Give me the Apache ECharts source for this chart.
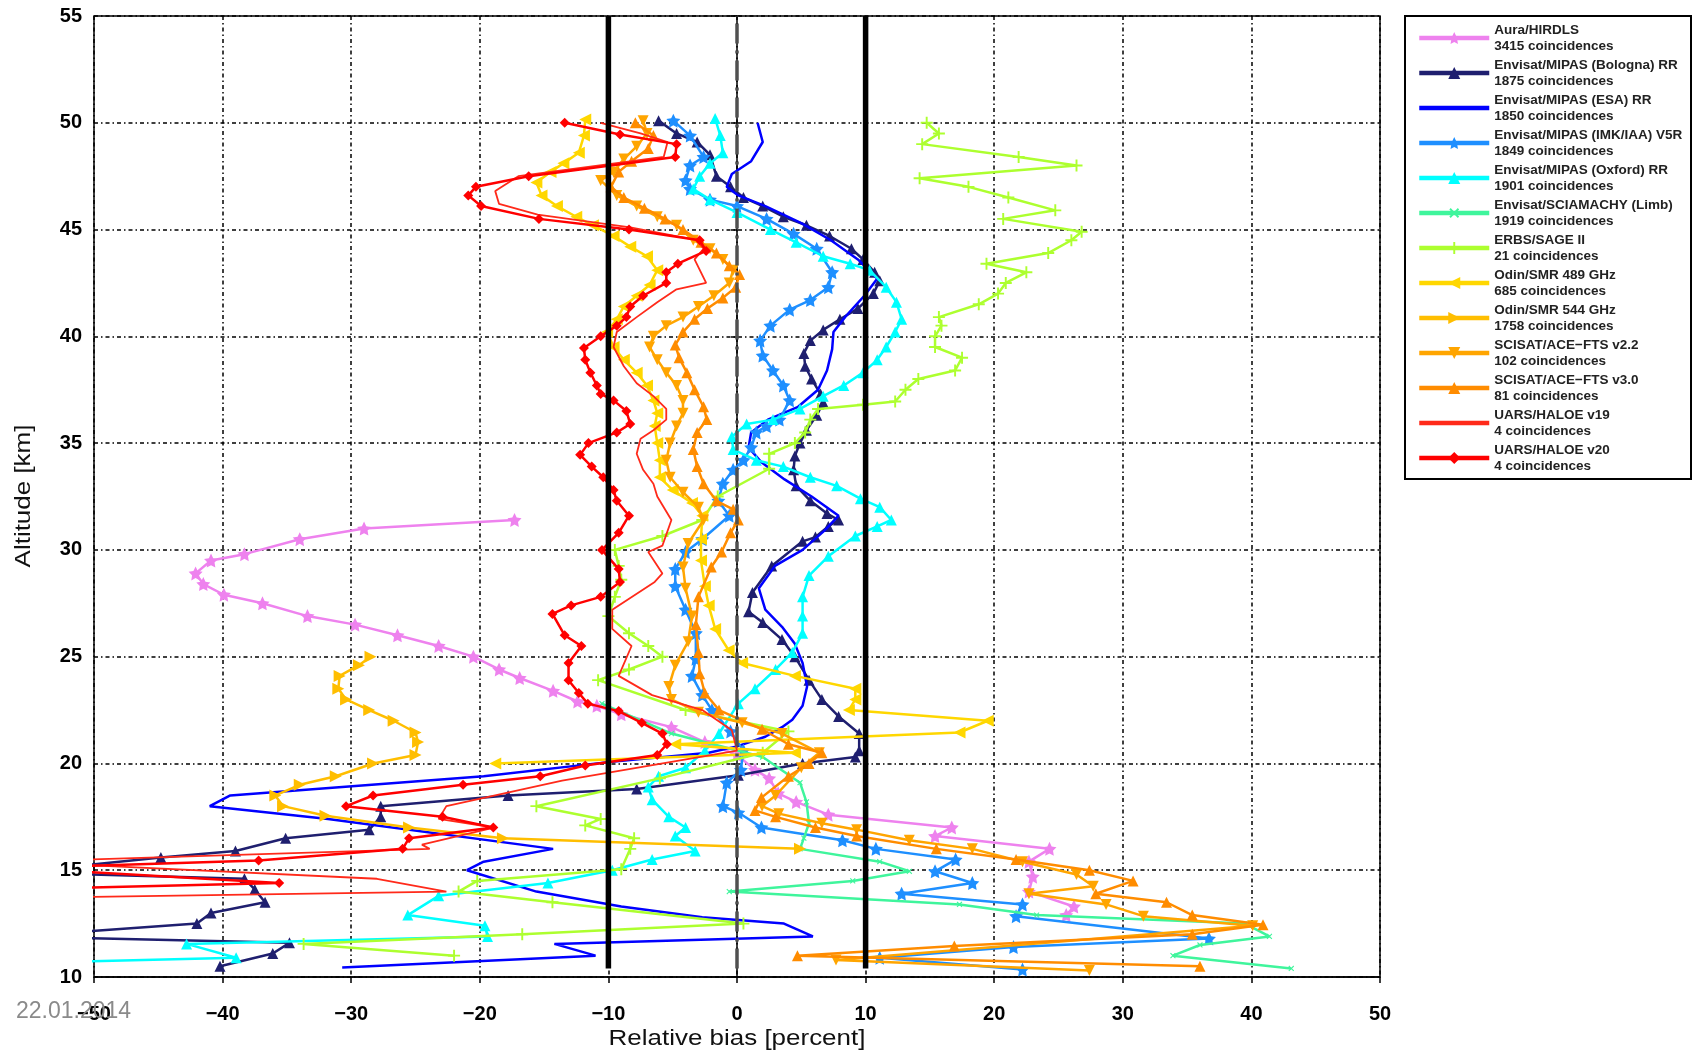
<!DOCTYPE html>
<html>
<head>
<meta charset="utf-8">
<title>Relative bias profiles</title>
<script src="https://cdn.jsdelivr.net/npm/echarts@6/dist/echarts.min.js"></script>
<style>
  html, body { margin: 0; padding: 0; background: #fff; }
  #chart { width: 1693px; height: 1052px; }
</style>
</head>
<body>
<div id="chart"></div>
<script>
// axis ticks
var xTicks = [-50, -40, -30, -20, -10, 0, 10, 20, 30, 40, 50];
var yTicks = [10, 15, 20, 25, 30, 35, 40, 45, 50, 55];

// legend text
var seriesNames = [
  'Aura/HIRDLS', 'Envisat/MIPAS (Bologna) RR', 'Envisat/MIPAS (ESA) RR',
  'Envisat/MIPAS (IMK/IAA) V5R', 'Envisat/MIPAS (Oxford) RR', 'Envisat/SCIAMACHY (Limb)',
  'ERBS/SAGE II', 'Odin/SMR 489 GHz', 'Odin/SMR 544 GHz',
  'SCISAT/ACE\u2212FTS v2.2', 'SCISAT/ACE\u2212FTS v3.0', 'UARS/HALOE v19', 'UARS/HALOE v20'
];
var coincidences = [3415, 1875, 1850, 1849, 1901, 1919, 21, 685, 1758, 102, 81, 4, 4];

// profiles: [relative bias %, altitude km]
var hirdls = [[-17.3,31.4],[-29,31.0],[-34.0,30.5],[-38.3,29.8],[-40.9,29.5],[-42.1,28.9],[-41.5,28.4],[-39.9,27.9],[-36.9,27.5],[-33.4,26.9],[-29.7,26.5],[-26.4,26.0],[-23.2,25.5],[-20.5,25.0],[-18.5,24.4],[-16.9,24.0],[-14.3,23.4],[-12.4,22.9],[-10.9,22.7],[-9,22.3],[-5.1,21.7],[-2.5,21.0],[0,20.4],[1.4,19.7],[2.5,19.3],[3.2,18.6],[4.6,18.2],[7.1,17.6],[16.7,17.0],[15.4,16.6],[24.3,16.0],[22.7,15.4],[23.0,14.7],[22.7,14.0],[26.2,13.3],[25.6,12.9]];

var mipasBologna = [[-6.1,50.1],[-4.7,49.5],[-3.1,49.1],[-2.1,48.5],[-1.6,47.5],[-0.5,47.0],[0.5,46.5],[2.0,46.1],[3.6,45.6],[5.4,45.2],[7.2,44.7],[8.9,44.1],[9.8,43.6],[10.7,43.0],[11.1,42.6],[10.6,42.0],[9.4,41.3],[8.0,40.8],[6.7,40.3],[5.7,39.8],[5.2,39.2],[5.3,38.6],[5.8,38.0],[6.5,37.3],[6.7,36.9],[6.2,36.3],[5.4,35.6],[4.9,35.0],[4.5,34.4],[4.4,33.75],[4.6,33.0],[5.7,32.3],[7.0,31.7],[7.9,31.4],[7.1,31.1],[6.1,30.6],[5.1,30.4],[2.7,29.25],[1.2,28.0],[0.9,27.1],[2.0,26.6],[3.5,25.8],[4.5,25.0],[5.6,23.9],[6.6,23.0],[7.9,22.2],[9.5,21.4],[9.5,20.6],[9.2,20.3],[5.1,20.0],[0.1,19.45],[-7.8,18.8],[-17.8,18.5],[-27.7,18.0],[-27.7,17.5],[-28.6,16.9],[-35.1,16.5],[-39.0,15.9],[-44.8,15.6],[-56,14.9],[-38.3,14.6],[-37.5,14.1],[-36.7,13.5],[-40.9,13.0],[-42.0,12.5],[-56,11.9],[-34.8,11.6],[-36.1,11.1],[-40.2,10.5]];

var mipasEsa = [[1.6,50],[2.0,49.1],[1.1,48.2],[-0.4,47.6],[-0.8,47.0],[0.1,46.6],[2.2,46.1],[5.0,45.3],[7.3,44.5],[9.4,43.6],[10.9,42.7],[9.9,41.9],[8.4,40.9],[7.5,40.2],[7.4,39.4],[7.0,38.4],[6.3,37.5],[4.75,36.7],[2.4,36.1],[1.1,35.5],[0.9,34.8],[1.9,34.1],[3.7,33.3],[5.8,32.5],[7.9,31.6],[6.8,30.9],[5.1,30.0],[2.95,29.25],[1.7,28.2],[2.2,27.2],[3.5,26.4],[4.5,25.6],[5.1,24.7],[5.45,23.6],[5.1,22.7],[4.3,22.05],[3.5,21.7],[2.2,21.25],[0,20.8],[-2.2,20.5],[-10.2,20.05],[-19.7,19.4],[-39.4,18.5],[-41.0,18.0],[-31.8,17.4],[-14.3,16.0],[-19.7,15.4],[-21.0,15.0],[-15.6,14.0],[-9.0,13.3],[-2.7,12.8],[3.65,12.5],[5.9,11.9],[-14.2,11.55],[-11.0,11.0],[-30.7,10.45]];

var mipasImk = [[-4.95,50.1],[-3.65,49.4],[-2.6,48.4],[-3.65,48.0],[-4.0,47.3],[-3.65,46.9],[-2.1,46.4],[0,46.1],[2.3,45.5],[4.4,44.8],[6.2,44.1],[7.4,43.0],[7.1,42.3],[5.7,41.7],[4.1,41.25],[2.6,40.5],[1.8,39.8],[2.0,39.1],[2.8,38.4],[3.6,37.7],[4.1,37.0],[3.3,36.1],[2.3,35.8],[1.5,35.5],[1.1,34.8],[0.5,34.2],[-0.3,33.75],[-1.1,33.1],[-1.45,32.3],[-0.6,31.6],[-2.7,30.5],[-4.0,29.9],[-4.8,29.1],[-4.8,28.3],[-4.0,27.2],[-3.2,26.1],[-3.2,24.9],[-3.5,24.1],[-2.7,23.2],[-1.95,22.5],[-0.5,21.5],[0.5,20.6],[0.3,19.7],[-0.8,19.1],[-1.1,18.0],[0.1,17.7],[1.9,17.0],[8.2,16.4],[10.8,16.0],[17.0,15.5],[15.4,14.95],[18.3,14.4],[12.8,13.9],[22.2,13.4],[21.7,12.85],[36.7,11.8],[21.5,11.4],[11.1,10.9],[22.2,10.35]];

var mipasOxford = [[-1.7,50.2],[-1.3,49.4],[-1.1,48.6],[-2.1,48.1],[-2.9,47.5],[-3.4,46.9],[-2.1,46.4],[0,45.8],[2.6,45.0],[4.6,44.4],[6.7,43.75],[8.8,43.4],[10.3,43.1],[11.6,42.3],[12.4,41.6],[12.8,40.8],[12.3,40.2],[11.6,39.5],[10.9,38.9],[9.8,38.3],[8.3,37.7],[6.7,37.2],[4.9,36.6],[2.8,36.1],[0.75,35.9],[-0.4,35.3],[-0.3,34.7],[1.5,34.2],[3.6,33.9],[5.7,33.4],[7.75,33.0],[9.6,32.4],[11.1,32.0],[12.0,31.4],[10.9,31.1],[9.2,30.65],[7.1,29.7],[5.6,28.8],[5.1,27.8],[5.1,26.9],[5.1,26.1],[4.3,25.2],[3.0,24.4],[1.4,23.5],[0.1,22.8],[-1.4,21.4],[-2.5,20.6],[-4.0,19.8],[-6.1,19.4],[-6.9,18.9],[-6.6,18.3],[-5.3,17.5],[-4.0,17.0],[-4.8,16.6],[-3.25,15.9],[-6.6,15.5],[-9.7,15.0],[-14.7,14.4],[-23.2,13.8],[-25.6,12.9],[-19.6,12.4],[-19.4,11.9],[-42.8,11.55],[-38.95,10.9],[-56,10.65]];

var sciamachy = [[-10.5,22.8],[-5.1,21.4],[2.0,20.3],[4.9,19.1],[5.4,18.2],[5.6,17.2],[5.2,16.5],[4.9,16.0],[11.1,15.4],[13.4,14.95],[9.0,14.5],[-0.6,14.0],[17.3,13.4],[23.3,12.9],[39.5,12.5],[41.4,11.9],[36,11.5],[33.9,11.0],[43.1,10.4]];

var sage2 = [[14.75,50],[15.7,49.5],[14.4,49.0],[21.9,48.4],[26.4,48.0],[14.2,47.4],[18.0,47.0],[21.1,46.5],[24.75,45.9],[20.7,45.5],[26.8,44.9],[26.0,44.5],[24.2,43.9],[19.4,43.4],[22.5,43.0],[20.9,42.5],[20.3,42.0],[18.8,41.5],[15.7,40.9],[15.9,40.5],[15.4,40.0],[15.4,39.5],[17.5,39.0],[16.96,38.4],[14.1,38.0],[13.1,37.5],[12.3,36.95],[9.8,36.8],[6.3,36.6],[5.7,36.1],[5.3,35.5],[4.5,35.0],[2.5,34.5],[2.5,33.8],[-1.5,32.5],[-2.7,31.4],[-5.8,30.65],[-9.5,30.0],[-9.2,29.25],[-9.0,28.6],[-9.5,27.8],[-10.0,26.9],[-8.4,26.1],[-6.9,25.5],[-5.8,25.0],[-8.4,24.4],[-10.8,23.9],[-4,22.5],[4.0,21.5],[2,20.5],[-6,19.3],[-15.6,18.0],[-10.6,17.4],[-11.8,17.1],[-8.0,16.5],[-8.3,16.0],[-9.0,15.05],[-20.2,14.5],[-21.65,14.0],[-14.35,13.5],[0.5,12.5],[-16.7,12.0],[-33.7,11.55],[-22.0,11.0]];

var smr489 = [[-11.8,50.15],[-11.9,49.4],[-12.3,48.6],[-13.5,48.1],[-14.5,47.7],[-15.6,47.2],[-15.2,46.6],[-14.0,46.1],[-12.5,45.6],[-11.2,45.2],[-9.6,44.7],[-8.3,44.2],[-7.0,43.75],[-6.2,43.1],[-6.8,42.4],[-7.8,41.9],[-8.8,41.4],[-9.35,40.8],[-10.1,40.2],[-9.6,39.5],[-8.8,38.9],[-7.8,38.3],[-7.0,37.7],[-6.5,37.0],[-6.2,36.4],[-6.4,35.8],[-6.2,35.0],[-6.0,34.2],[-6.0,33.4],[-5.0,32.8],[-3.5,32.2],[-2.7,31.6],[-2.8,30.5],[-2.8,29.5],[-2.5,28.3],[-2.2,27.4],[-1.7,26.3],[-0.65,25.3],[0.4,24.7],[4.5,24.1],[9.2,23.5],[9.2,23.0],[8.7,22.5],[19.5,22.0],[17.3,21.45],[-4.8,20.9],[4.5,20.5],[-18.8,20.0]];

var smr544 = [[-28.5,25.0],[-29.4,24.6],[-30.9,24.1],[-31.0,23.5],[-30.4,23.0],[-28.6,22.5],[-26.7,22.0],[-25.0,21.45],[-24.8,21.0],[-25.0,20.4],[-28.3,20.0],[-31.2,19.4],[-34.0,19.0],[-35.9,18.5],[-35.3,18.0],[-32.0,17.55],[-25.5,17.0],[-18.2,16.5],[4.9,16.0]];

var aceV22 = [[-7.3,50.1],[-7.0,49.5],[-7.8,48.9],[-8.8,48.3],[-9.6,47.7],[-10.6,47.3],[-9.35,46.6],[-7.8,46.1],[-6.2,45.6],[-4.7,45.2],[-3.4,44.5],[-2.1,44.1],[-1.1,43.6],[-0.3,43.1],[-0.6,42.5],[-1.8,41.9],[-3.0,41.4],[-4.2,40.9],[-5.5,40.5],[-6.5,40.0],[-6.8,39.5],[-6.2,38.9],[-5.5,38.3],[-4.7,37.7],[-4.2,37.0],[-4.2,36.4],[-4.7,35.8],[-5.2,35.0],[-5.5,34.2],[-5.2,33.4],[-4.2,32.7],[-3.0,32.0],[-2.6,31.4],[-3.8,30.3],[-4.2,29.2],[-4.0,28.2],[-3.5,26.9],[-3.8,25.7],[-4.8,24.6],[-5.3,23.6],[-5.1,23.0],[-3.0,22.4],[0.4,21.9],[3.5,21.4],[6.4,20.5],[5.0,19.8],[3.0,18.5],[1.95,18.0],[3.25,17.65],[6.6,17.2],[9.3,16.9],[13.4,16.4],[18.3,16.0],[22.2,15.4],[26.4,14.8],[27.7,14.25],[22.7,13.9],[28.7,13.4],[31.6,12.85],[40.1,12.4],[7.7,10.8],[27.4,10.3]];

var aceV30 = [[-7.9,50.0],[-6.5,49.4],[-6.9,48.8],[-8.2,48.2],[-9.2,47.7],[-9.8,47.0],[-8.8,46.5],[-7.2,46.0],[-5.6,45.5],[-4.2,45.0],[-2.8,44.4],[-1.6,43.9],[-0.6,43.3],[0.2,42.9],[-0.1,42.3],[-1.1,41.8],[-2.3,41.3],[-3.3,40.8],[-4.2,40.2],[-4.8,39.6],[-4.5,39.0],[-3.9,38.3],[-3.3,37.5],[-2.6,36.7],[-2.35,36.1],[-3.1,35.5],[-3.4,34.7],[-3.1,33.9],[-2.6,33.1],[-1.6,32.3],[-0.3,31.9],[0.1,31.4],[-0.5,30.8],[-1.2,29.9],[-2.0,29.2],[-3.0,27.8],[-3.2,26.5],[-3.0,25.2],[-2.9,24.2],[-2.5,23.3],[-1.4,22.5],[1.95,21.6],[4.0,20.9],[6.6,20.5],[5.6,20.0],[4.0,19.4],[1.9,18.4],[1.4,17.8],[3.0,17.5],[6.1,17.0],[9.3,16.6],[15.5,16.0],[21.7,15.5],[27.4,15.0],[30.8,14.5],[27.9,13.9],[33.4,13.5],[35.4,12.9],[40.9,12.45],[35.4,12.0],[16.9,11.45],[4.7,11.0],[36.0,10.5]];

var haloeV19 = [[-10.6,50.0],[-7.5,49.5],[-5.4,49.1],[-5.7,48.4],[-17.0,47.5],[-18.8,46.8],[-18.5,46.2],[-15.5,45.7],[-8.3,45.1],[-3.1,44.5],[-2.6,44.1],[-3.3,43.6],[-2.4,42.5],[-4.7,42.2],[-6.2,41.6],[-7.8,40.9],[-9.35,40.2],[-9.6,39.5],[-8.8,38.6],[-7.8,37.8],[-6.5,37.2],[-5.5,36.6],[-5.5,36.1],[-6.5,35.6],[-7.5,35.2],[-7.8,34.5],[-7.3,33.75],[-6.5,33.1],[-6.2,32.5],[-5.1,31.4],[-5.8,30.2],[-6.9,29.9],[-5.8,28.9],[-6.4,28.5],[-9.7,27.2],[-9.7,26.3],[-8.2,25.5],[-9.2,24.1],[-6.6,23.2],[-2.7,22.5],[-0.4,21.55],[0,20.6],[-13.6,19.2],[-22.6,18.0],[-23.2,17.4],[-18.9,17.0],[-24.5,16.2],[-23.9,16.0],[-56,15.4],[-28,14.6],[-22.6,14.0],[-56,13.7]];

var haloeV20 = [[-13.4,50.0],[-9.1,49.45],[-4.7,49.0],[-4.8,48.4],[-16.2,47.5],[-20.3,47.0],[-20.9,46.6],[-19.9,46.1],[-15.4,45.5],[-8.4,45.0],[-2.9,44.5],[-2.4,44.0],[-4.6,43.4],[-5.5,43.0],[-5.5,42.5],[-7.3,41.9],[-8.3,41.4],[-8.6,40.9],[-9.35,40.5],[-10.6,40.0],[-11.9,39.45],[-11.8,38.9],[-11.4,38.3],[-10.9,37.7],[-10.6,37.3],[-9.6,37.0],[-8.6,36.5],[-8.3,35.9],[-9.35,35.5],[-11.55,35.0],[-12.2,34.45],[-11.3,33.9],[-10.4,33.4],[-9.6,32.8],[-9.35,32.3],[-8.4,31.6],[-9.2,30.8],[-10.5,30.0],[-9.2,29.1],[-9.1,28.5],[-10.6,27.8],[-12.9,27.4],[-14.35,27.0],[-13.4,26.0],[-12.1,25.5],[-13.1,24.7],[-13.1,23.9],[-12.3,23.3],[-11.6,22.8],[-9.2,22.45],[-7.4,21.9],[-5.8,21.4],[-5.45,20.9],[-6.2,20.4],[-11.8,19.9],[-15.3,19.4],[-21.3,19.0],[-28.3,18.5],[-30.4,18.0],[-22.9,17.5],[-18.95,17.0],[-25.5,16.5],[-26.0,16.0],[-37.2,15.45],[-56,15.1],[-35.6,14.4],[-56,14.1]];

// reference lines at -10, 0, +10 percent
var refX = [-10, 0, 10];
var refAlt = [10.4, 55];

var profiles = [hirdls, mipasBologna, mipasEsa, mipasImk, mipasOxford, sciamachy, sage2,
  smr489, smr544, aceV22, aceV30, haloeV19, haloeV20];

var starPath = 'path://M0,-10 L2.94,-4.05 L9.51,-3.09 L4.76,1.55 L5.88,8.09 L0,5 L-5.88,8.09 L-4.76,1.55 L-9.51,-3.09 L-2.94,-4.05 Z';
var plusPath = 'path://M-1.6,-10 L1.6,-10 L1.6,-1.6 L10,-1.6 L10,1.6 L1.6,1.6 L1.6,10 L-1.6,10 L-1.6,1.6 L-10,1.6 L-10,-1.6 L-1.6,-1.6 Z';

var looks = [
  { color: '#ee82ee', symbol: starPath, size: 14, rot: 0, width: 2.5 },
  { color: '#1f1f6f', symbol: 'triangle', size: 11, rot: 0, width: 2.5 },
  { color: '#0000ff', symbol: 'none', size: 0, rot: 0, width: 2.5 },
  { color: '#1e8fff', symbol: starPath, size: 14, rot: 0, width: 2.5 },
  { color: '#00ffff', symbol: 'triangle', size: 11, rot: 0, width: 2.5 },
  { color: '#3ff59c', symbol: plusPath, size: 7, rot: 45, width: 2.5 },
  { color: '#adff2f', symbol: plusPath, size: 12, rot: 0, width: 2.5 },
  { color: '#ffd700', symbol: 'triangle', size: 12, rot: 90, width: 2.5 },
  { color: '#ffbe00', symbol: 'triangle', size: 12, rot: -90, width: 2.5 },
  { color: '#ffa500', symbol: 'triangle', size: 11, rot: 180, width: 2.5 },
  { color: '#ff8c00', symbol: 'triangle', size: 11, rot: 0, width: 2.5 },
  { color: '#ff2a1a', symbol: 'none', size: 0, rot: 0, width: 1.8 },
  { color: '#ff0000', symbol: 'diamond', size: 10, rot: 0, width: 2.5 }
];

function minusLabel(v) {
  return v < 0 ? '\u2212' + (-v) : String(v);
}

var series = profiles.map(function (d, i) {
  var lk = looks[i];
  return {
    name: seriesNames[i],
    type: 'line',
    data: d,
    symbol: lk.symbol,
    symbolSize: lk.size,
    symbolRotate: lk.rot,
    showSymbol: lk.symbol !== 'none',
    lineStyle: { color: lk.color, width: lk.width },
    itemStyle: { color: lk.color },
    z: 2 + i
  };
});

refX.forEach(function (x) {
  series.push({
    type: 'line',
    data: refAlt.map(function (a) { return [x, a]; }),
    symbol: 'none',
    silent: true,
    lineStyle: x === 0
      ? { color: '#505050', width: 3.5, type: [20, 7, 3, 7] }
      : { color: '#000', width: 5.5 },
    z: 30
  });
});

var legendData = seriesNames.map(function (n, i) {
  var item = { name: n };
  if (looks[i].symbol === 'none') {
    item.itemStyle = { opacity: 0 };
  }
  return item;
});

var chart = echarts.init(document.getElementById('chart'));
chart.setOption({
  animation: false,
  grid: {
    left: 94, right: 313, top: 16, bottom: 75,
    show: true, borderColor: '#000', borderWidth: 1.5, backgroundColor: '#fff'
  },
  xAxis: {
    type: 'value', min: xTicks[0], max: xTicks[xTicks.length - 1], interval: 10,
    axisLine: { lineStyle: { color: '#000', width: 1.5 } },
    axisTick: { show: true, length: 6, lineStyle: { color: '#000', width: 1.5 } },
    axisLabel: { fontSize: 20, fontWeight: 'bold', color: '#000', margin: 27, fontFamily: 'Liberation Sans', formatter: minusLabel },
    splitLine: { show: true, lineStyle: { color: '#000', width: 1.5, type: [4, 3, 1.5, 3] } }
  },
  yAxis: {
    type: 'value', min: yTicks[0], max: yTicks[yTicks.length - 1], interval: 5,
    axisLine: { lineStyle: { color: '#000', width: 1.5 } },
    axisTick: { show: true, length: 6, lineStyle: { color: '#000', width: 1.5 } },
    axisLabel: { fontSize: 20, fontWeight: 'bold', color: '#000', margin: 12, fontFamily: 'Liberation Sans' },
    splitLine: { show: true, lineStyle: { color: '#000', width: 1.5, type: [4, 3, 1.5, 3] } }
  },
  legend: {
    data: legendData,
    orient: 'vertical',
    left: 1417, top: 22,
    itemWidth: 70, itemHeight: 15, itemGap: 3,
    padding: 0,
    selectedMode: false,
    lineStyle: { width: 4.5 },
    textStyle: { fontSize: 13.5, fontWeight: 'bold', lineHeight: 16, color: '#222', fontFamily: 'Liberation Sans' },
    formatter: function (name) {
      return name + '\n' + coincidences[seriesNames.indexOf(name)] + ' coincidences';
    }
  },
  graphic: [
    {
      type: 'rect', left: 1404, top: 15, z: -1,
      shape: { width: 286, height: 463 },
      style: { fill: '#fff', stroke: '#000', lineWidth: 2 }
    },
    {
      type: 'text', x: 737, y: 1039, scaleX: 1.18, z: 50,
      style: { text: 'Relative bias [percent]', fill: '#111', fontSize: 22, fontFamily: 'Liberation Sans', align: 'center', verticalAlign: 'middle' }
    },
    {
      type: 'text', x: 24, y: 496, rotation: Math.PI / 2, scaleX: 1.18, z: 50,
      style: { text: 'Altitude [km]', fill: '#111', fontSize: 22, fontFamily: 'Liberation Sans', align: 'center', verticalAlign: 'middle' }
    },
    {
      type: 'text', left: 16, top: 1000, z: 50,
      style: { text: '22.01.2014', fill: '#8a8a8a', fontSize: 23, fontFamily: 'Liberation Sans' }
    }
  ],
  series: series
});
</script>
</body>
</html>
